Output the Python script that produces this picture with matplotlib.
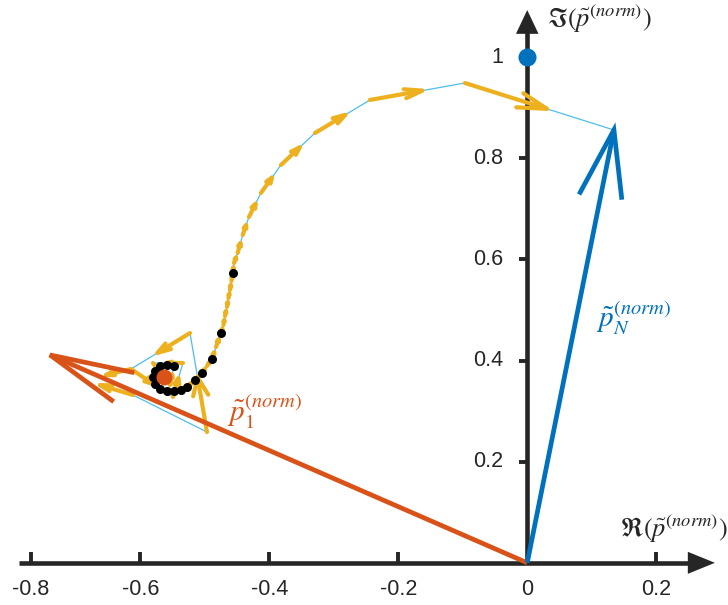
import numpy as np
import matplotlib
matplotlib.use('Agg')
import matplotlib.pyplot as plt
from matplotlib.collections import LineCollection

plt.rcParams['mathtext.fontset'] = 'stix'
plt.rcParams['font.family'] = ['Liberation Sans', 'DejaVu Sans']

# ---- data -------------------------------------------------------------
# normalised iterate trajectory (real / imaginary parts)
path_re = [-0.6113, -0.4966, -0.5229, -0.6144, -0.5493, -0.5338, -0.5803, -0.5540,
           -0.5478, -0.5586, -0.5695, -0.5764, -0.5803, -0.5772, -0.5695, -0.5586,
           -0.5478, -0.5369, -0.5276, -0.5152, -0.5043, -0.4966, -0.4888, -0.4826,
           -0.4749, -0.4710, -0.4687, -0.4656, -0.4633, -0.4609, -0.4586, -0.4567,
           -0.4547, -0.4490, -0.4412, -0.4315, -0.4129, -0.3819, -0.3291, -0.2439,
           -0.0966, 0.1344]
path_im = [0.3318, 0.2587, 0.4544, 0.3832, 0.3279, 0.3951, 0.3951, 0.3516,
           0.3892, 0.3921, 0.3892, 0.3793, 0.3674, 0.3536, 0.3437, 0.3407,
           0.3397, 0.3417, 0.3476, 0.3615, 0.3753, 0.3892, 0.4030, 0.4267,
           0.4544, 0.4702, 0.4880, 0.5058, 0.5236, 0.5394, 0.5573, 0.5731,
           0.5928, 0.6126, 0.6482, 0.6838, 0.7313, 0.7866, 0.8499, 0.9152,
           0.9488, 0.8559]
# iterates highlighted with black markers
marked = [8, 9, 10, 11, 12, 13, 14, 15, 16, 17, 18, 19, 20, 22, 24, 31]
# search directions drawn at the first iterates (real / imaginary parts)
dir_re = [-0.6113, -0.6144]
dir_im = [0.3318, 0.3832]
dir_u = [-0.0512, -0.0388]
dir_v = [0.0198, -0.0119]

p1 = (-0.740, 0.411)        # first normalised vector
pN = (0.1344, 0.8559)       # last normalised vector
p_start = (-0.563, 0.368)
p_target = (0.0, 1.0)

xticks = [-0.77, -0.6, -0.4, -0.2, 0.0, 0.2]
xtick_labels = ['-0.8', '-0.6', '-0.4', '-0.2', '0', '0.2']
yticks = [0.2, 0.4, 0.6, 0.8, 1.0]
ytick_labels = ['0.2', '0.4', '0.6', '0.8', '1']

# ---- colours ----------------------------------------------------------
c_axis = '#262626'
c_red = '#D95319'
c_blue = '#0072BD'
c_yel = '#EDB120'
c_cyan = '#4DBEEE'

fig = plt.figure(figsize=(7.28, 6.05), dpi=100)
ax = fig.add_axes([0, 0, 1, 1])
ax.set_xlim(-0.8175, 0.3113)
ax.set_ylim(-0.0834, 1.1129)
ax.axis('off')


def arrow_lines(x, y, u, v, a, b):
    """Shaft and open head of a quiver-style arrow."""
    tx, ty = x + u, y + v
    h1 = (tx - a * (u + b * v), ty - a * (v - b * u))
    h2 = (tx - a * (u - b * v), ty - a * (v + b * u))
    return [[(x, y), (tx, ty)], [h1, (tx, ty), h2]]


# ---- coordinate axes through the origin --------------------------------
ax.plot([-0.788, 0.255], [0, 0], color=c_axis, lw=3.3, solid_capstyle='butt', zorder=1)
ax.fill([0.249, 0.291, 0.249], [0.0218, 0, -0.0218], color=c_axis, lw=0, zorder=1)
ax.plot([0, 0], [0, 1.052], color=c_axis, lw=3.3, solid_capstyle='butt', zorder=1)
ax.fill([-0.0175, 0, 0.0175], [1.046, 1.093, 1.046], color=c_axis, lw=0, zorder=1)

for xt, lab in zip(xticks, xtick_labels):
    if xt != 0:
        ax.plot([xt, xt], [0, 0.022], color=c_axis, lw=2.8, solid_capstyle='butt', zorder=1)
    ax.text(xt, -0.052, lab, ha='center', va='center', fontsize=15.5, color=c_axis)
for yt, lab in zip(yticks, ytick_labels):
    if yt != 1.0:
        ax.plot([-0.0124, 0], [yt, yt], color=c_axis, lw=2.8, solid_capstyle='butt', zorder=1)
    ax.text(-0.0377, yt, lab, ha='right', va='center', fontsize=15.5, color=c_axis)

ax.text(0.3105, 0.068, r'$\Re(\tilde{p}^{(norm)})$', ha='right', va='center',
        fontsize=19, color=c_axis)
ax.text(0.030, 1.075, r'$\Im(\tilde{p}^{(norm)})$', ha='left', va='center',
        fontsize=19, color=c_axis)

# ---- trajectory -------------------------------------------------------
re = np.array(path_re)
im = np.array(path_im)
ax.plot(re, im, color=c_cyan, lw=0.9, zorder=2)

segs = []
for i in range(1, len(re) - 1):
    u = 0.55 * (re[i + 1] - re[i])
    v = 0.55 * (im[i + 1] - im[i])
    segs += arrow_lines(re[i], im[i], u, v, 0.33, 0.33)
for x, y, u, v in zip(dir_re, dir_im, dir_u, dir_v):
    segs += arrow_lines(x, y, u, v, 0.33, 0.33)
ax.add_collection(LineCollection(segs, colors=c_yel, linewidths=3.0,
                                 capstyle='round', joinstyle='round', zorder=3))

ax.plot(re[marked], im[marked], 'o', color='black', ms=6.5, mec='none', zorder=4)
ax.plot(*p_start, 'o', color=c_red, ms=11.5, mec='none', zorder=5)

# ---- first and last vectors -------------------------------------------
vec_segs = arrow_lines(0, 0, p1[0], p1[1], 0.155, 0.25)
ax.add_collection(LineCollection(vec_segs, colors=c_red, linewidths=3.4,
                                 capstyle='butt', joinstyle='miter', zorder=6))
vec_segs = arrow_lines(0, 0, pN[0], pN[1], 0.155, 0.25)
ax.add_collection(LineCollection(vec_segs, colors=c_blue, linewidths=3.4,
                                 capstyle='butt', joinstyle='miter', zorder=6))

ax.plot(*p_target, 'o', color=c_blue, ms=13, mec='none', zorder=7)

ax.text(-0.466, 0.300, r'$\tilde{p}_1^{(norm)}$', ha='left', va='center',
        fontsize=21, color=c_red)
ax.text(0.106, 0.484, r'$\tilde{p}_N^{(norm)}$', ha='left', va='center',
        fontsize=21, color=c_blue)

fig.savefig('out.png', dpi=100)
